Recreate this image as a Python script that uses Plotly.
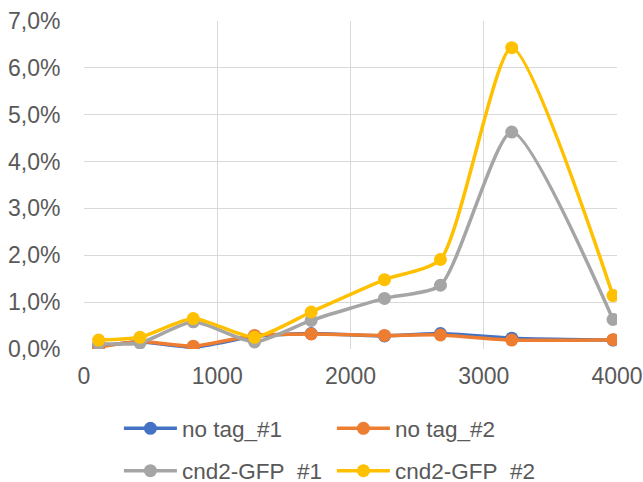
import plotly.graph_objects as go

x_vals = [110, 420, 820, 1280, 1705, 2255, 2675, 3210, 3970]
no_tag_1 = [0.0006, 0.0015, 0.0004, 0.0027, 0.0033, 0.0028, 0.0033, 0.0023, 0.0019]
no_tag_2 = [0.0004, 0.0016, 0.0006, 0.0029, 0.0032, 0.0029, 0.0030, 0.0019, 0.0020]
cnd2_gfp_1 = [0.0011, 0.0013, 0.0058, 0.0015, 0.0061, 0.0108, 0.0136, 0.0463, 0.0063]
cnd2_gfp_2 = [0.0019, 0.0025, 0.0065, 0.0025, 0.0079, 0.0148, 0.0191, 0.0643, 0.0114]
names = ["no tag_#1", "no tag_#2", "cnd2-GFP_#1", "cnd2-GFP_#2"]
colors = ["#4472C4", "#ED7D31", "#A5A5A5", "#FFC000"]
legend_ids = ["legend", "legend", "legend2", "legend2"]

fig = go.Figure()
for name, ys, c, lg in zip(names, [no_tag_1, no_tag_2, cnd2_gfp_1, cnd2_gfp_2], colors, legend_ids):
    fig.add_trace(go.Scatter(
        x=x_vals, y=ys, name=name, mode="lines+markers",
        line=dict(color=c, width=3.5, shape="spline", smoothing=0.6),
        marker=dict(color=c, size=13),
        legend=lg,
    ))

leg_common = dict(
    orientation="h", x=0.0655, xanchor="left", yanchor="middle",
    font=dict(size=22.5, color="#595959"),
    itemwidth=53, entrywidth=145, bgcolor="rgba(0,0,0,0)",
)
fig.update_layout(
    width=643, height=505,
    margin=dict(l=84, r=26, t=21, b=150),
    paper_bgcolor="white", plot_bgcolor="white",
    separators=", ",
    font=dict(family="Liberation Sans, Arial, sans-serif", size=23, color="#595959"),
    showlegend=True,
    legend=dict(y=-0.243, **leg_common),
    legend2=dict(y=-0.372, **leg_common),
)
fig.update_xaxes(
    range=[0, 4000], tickvals=[0, 1000, 2000, 3000, 4000],
    showgrid=True, gridcolor="#D9D9D9", gridwidth=1.3,
    zeroline=False, showline=False,
    ticks="outside", ticklen=6, tickcolor="rgba(0,0,0,0)",
    automargin=False, ticklabeloverflow="allow",
    tickfont=dict(size=23, color="#595959"),
)
fig.update_yaxes(
    range=[0, 0.07], tickvals=[0, 0.01, 0.02, 0.03, 0.04, 0.05, 0.06, 0.07],
    tickformat=".1%",
    showgrid=True, gridcolor="#D9D9D9", gridwidth=1.3,
    zeroline=False, showline=False,
    ticks="outside", ticklen=18, tickcolor="rgba(0,0,0,0)",
    automargin=False, ticklabeloverflow="allow",
    tickfont=dict(size=23, color="#595959"),
)
fig.write_html(
    "out.html",
    config={"displayModeBar": False},
    post_script="document.body.style.margin='0';document.documentElement.style.overflow='hidden';document.body.style.overflow='hidden';",
)
